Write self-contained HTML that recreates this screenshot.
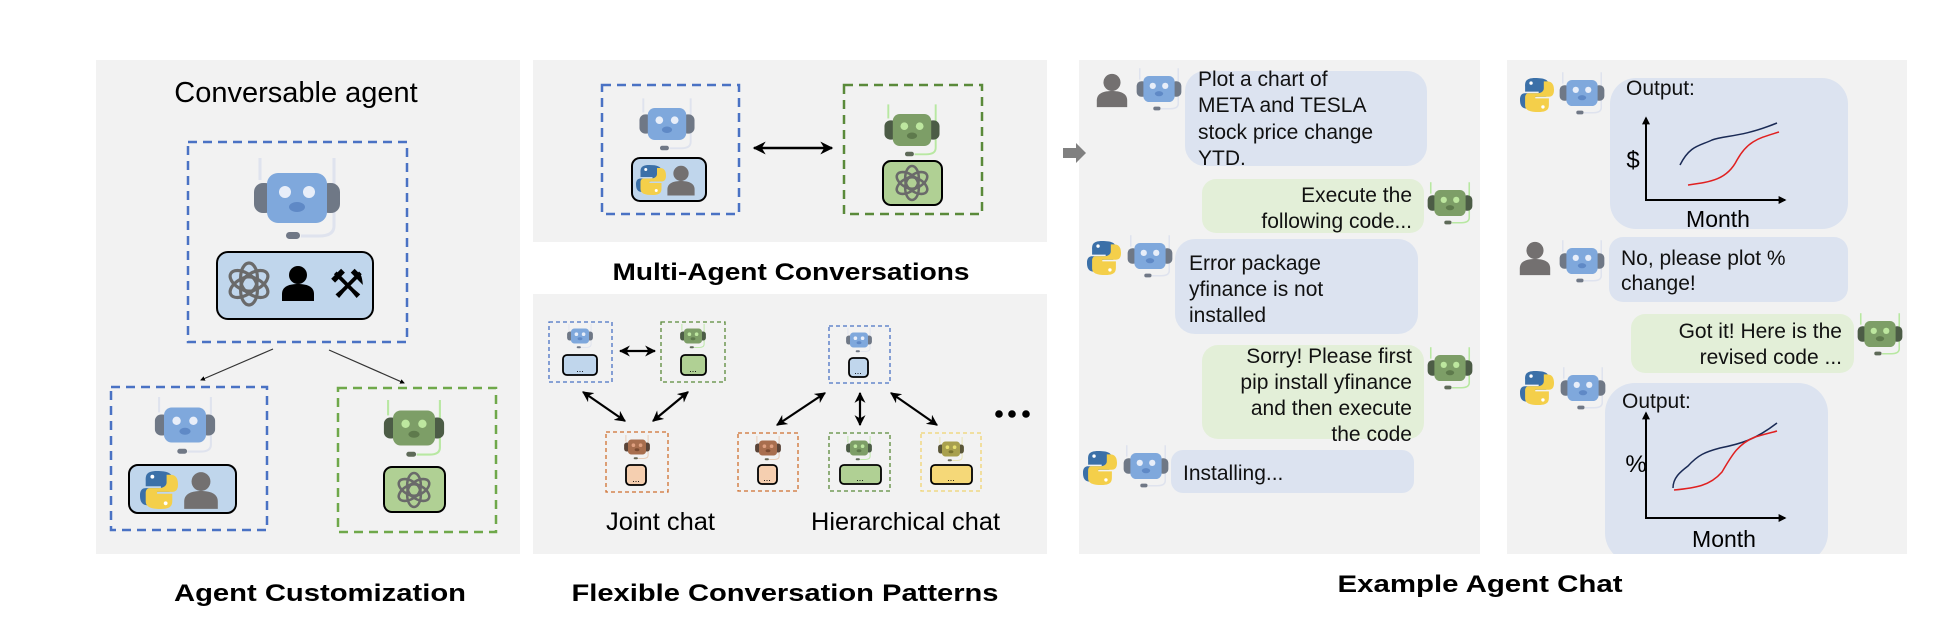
<!DOCTYPE html>
<html><head><meta charset="utf-8"><style>
html,body{margin:0;padding:0;background:#fff}
svg{display:block}
.c{font-family:"Liberation Sans",sans-serif;font-size:21px;fill:#111}
.t{font-family:"Liberation Sans",sans-serif;font-weight:bold;font-size:24px;fill:#000}
</style></head><body>
<svg width="1934" height="636" viewBox="0 0 1934 636" xmlns="http://www.w3.org/2000/svg">
<defs>
<marker id="ah" viewBox="0 0 10 10" refX="9" refY="5" markerUnits="userSpaceOnUse" markerWidth="11" markerHeight="11" orient="auto-start-reverse"><path d="M0,0L10,5L0,10L3,5z" fill="#000"/></marker>
<marker id="ah3" viewBox="0 0 10 10" refX="9" refY="5" markerUnits="userSpaceOnUse" markerWidth="13" markerHeight="13" orient="auto-start-reverse"><path d="M0,0L10,5L0,10L3,5z" fill="#000"/></marker>
<marker id="ah2" viewBox="0 0 10 10" refX="8" refY="5" markerWidth="4" markerHeight="4" orient="auto-start-reverse"><path d="M0,0L10,5L0,10z" fill="#000"/></marker>
<g id="rb">
 <line x1="-37" y1="-40" x2="-37" y2="-18" stroke="#dfe3ee" stroke-width="3"/>
 <path d="M37,-40 L37,28 Q37,38 22,38 L4,38" stroke="#dfe3ee" stroke-width="3" fill="none"/>
 <rect x="-43" y="-15" width="20" height="30" rx="9" fill="#6f7886"/>
 <rect x="23" y="-15" width="20" height="30" rx="9" fill="#6f7886"/>
 <rect x="-30" y="-25" width="60" height="50" rx="11" fill="#7fa8dc"/>
 <circle cx="-12" cy="-6" r="6" fill="#e8eef9"/><circle cx="12" cy="-6" r="6" fill="#e8eef9"/>
 <ellipse cx="0" cy="9" rx="8" ry="5" fill="#5f89c6"/>
 <rect x="-11" y="34" width="14" height="7" rx="3.5" fill="#707886"/>
</g>
<g id="rg">
 <line x1="-37" y1="-40" x2="-37" y2="-18" stroke="#b8e8a2" stroke-width="3"/>
 <path d="M37,-40 L37,28 Q37,38 22,38 L4,38" stroke="#b8e8a2" stroke-width="3" fill="none"/>
 <rect x="-43" y="-15" width="20" height="30" rx="9" fill="#4c5c46"/>
 <rect x="23" y="-15" width="20" height="30" rx="9" fill="#4c5c46"/>
 <rect x="-30" y="-25" width="60" height="50" rx="11" fill="#7d9e67"/>
 <circle cx="-12" cy="-6" r="6" fill="#bde79f"/><circle cx="12" cy="-6" r="6" fill="#bde79f"/>
 <ellipse cx="0" cy="9" rx="8" ry="5" fill="#5e7a4c"/>
 <rect x="-11" y="34" width="14" height="7" rx="3.5" fill="#5e6a58"/>
</g>
<g id="rbr">
 <line x1="-37" y1="-40" x2="-37" y2="-18" stroke="#e8c8b0" stroke-width="3"/>
 <path d="M37,-40 L37,28 Q37,38 22,38 L4,38" stroke="#e8c8b0" stroke-width="3" fill="none"/>
 <rect x="-43" y="-15" width="20" height="30" rx="9" fill="#5a4438"/>
 <rect x="23" y="-15" width="20" height="30" rx="9" fill="#5a4438"/>
 <rect x="-30" y="-25" width="60" height="50" rx="11" fill="#a86e4e"/>
 <circle cx="-12" cy="-6" r="6" fill="#e0a080"/><circle cx="12" cy="-6" r="6" fill="#e0a080"/>
 <ellipse cx="0" cy="9" rx="8" ry="5" fill="#7a4a30"/>
 <rect x="-11" y="34" width="14" height="7" rx="3.5" fill="#665"/>
</g>
<g id="ro">
 <line x1="-37" y1="-40" x2="-37" y2="-18" stroke="#e8e4b0" stroke-width="3"/>
 <path d="M37,-40 L37,28 Q37,38 22,38 L4,38" stroke="#e8e4b0" stroke-width="3" fill="none"/>
 <rect x="-43" y="-15" width="20" height="30" rx="9" fill="#5a5638"/>
 <rect x="23" y="-15" width="20" height="30" rx="9" fill="#5a5638"/>
 <rect x="-30" y="-25" width="60" height="50" rx="11" fill="#a8a04e"/>
 <circle cx="-12" cy="-6" r="6" fill="#e8e070"/><circle cx="12" cy="-6" r="6" fill="#e8e070"/>
 <ellipse cx="0" cy="9" rx="8" ry="5" fill="#7a7430"/>
 <rect x="-11" y="34" width="14" height="7" rx="3.5" fill="#665"/>
</g>
<g id="oai" fill="none" stroke="#6a6a6a" stroke-width="3">
 <ellipse cx="0" cy="-6" rx="8" ry="14"/>
 <ellipse cx="0" cy="-6" rx="8" ry="14" transform="rotate(60)"/>
 <ellipse cx="0" cy="-6" rx="8" ry="14" transform="rotate(120)"/>
 <ellipse cx="0" cy="-6" rx="8" ry="14" transform="rotate(180)"/>
 <ellipse cx="0" cy="-6" rx="8" ry="14" transform="rotate(240)"/>
 <ellipse cx="0" cy="-6" rx="8" ry="14" transform="rotate(300)"/>
</g>
<g id="py">
 <path d="M-2,-20 C-14,-20 -14,-15 -14,-10 L-14,-4 L2,-4 L2,-2 L-14,-2 C-20,-2 -20,4 -20,6 C-20,14 -16,16 -12,16 L-8,16 L-8,8 C-8,4 -4,2 0,2 L10,2 C13,2 14,-1 14,-3 L14,-12 C14,-18 8,-20 -2,-20Z" fill="#3b70a8"/>
 <path d="M2,20 C14,20 14,15 14,10 L14,4 L-2,4 L-2,2 L14,2 C20,2 20,-4 20,-6 C20,-14 16,-16 12,-16 L8,-16 L8,-8 C8,-4 4,-2 0,-2 L-10,-2 C-13,-2 -14,1 -14,3 L-14,12 C-14,18 -8,20 2,20Z" fill="#f4cf4a"/>
 <circle cx="-7" cy="-14" r="2" fill="#fff"/><circle cx="7" cy="14" r="2" fill="#fff"/>
</g>
<g id="pp"><circle cx="0" cy="-9" r="9"/><path d="M-16,17 L-16,10 C-16,2 -8,0 0,0 C8,0 16,2 16,10 L16,17Z"/></g>
</defs>

<!-- Panel 1 -->
<rect x="96" y="60" width="424" height="494" fill="#f2f2f2"/>
<text x="296" y="102" font-family="Liberation Sans,sans-serif" font-size="29" text-anchor="middle" fill="#000">Conversable agent</text>
<rect x="188" y="142" width="219" height="200" fill="none" stroke="#4a72c4" stroke-width="2.5" stroke-dasharray="9,6"/>
<use href="#rb" transform="translate(297,198)"/>
<rect x="217" y="252" width="156" height="67" rx="11" fill="#c0d6ec" stroke="#000" stroke-width="2"/>
<use href="#oai" transform="translate(249,284) scale(1.05)"/>
<use href="#pp" fill="#000" transform="translate(298,284)"/>
<text x="347" y="298" font-family="DejaVu Sans,sans-serif" font-size="40" text-anchor="middle" fill="#000">⚒</text>
<line x1="273" y1="349" x2="201" y2="380" stroke="#333" stroke-width="1.2" marker-end="url(#ah2)"/>
<line x1="329" y1="350" x2="404" y2="383" stroke="#333" stroke-width="1.2" marker-end="url(#ah2)"/>
<rect x="111" y="387" width="156" height="143" fill="none" stroke="#4a72c4" stroke-width="2.5" stroke-dasharray="9,6"/>
<use href="#rb" transform="translate(185,425) scale(0.7)"/>
<rect x="129" y="465" width="107" height="48" rx="9" fill="#c0d6ec" stroke="#000" stroke-width="2"/>
<use href="#py" transform="translate(159,490) scale(0.95)"/>
<use href="#pp" fill="#737070" transform="translate(201,491) scale(1.05)"/>
<rect x="338" y="388" width="158" height="144" fill="none" stroke="#6fa84a" stroke-width="2.5" stroke-dasharray="9,6"/>
<use href="#rg" transform="translate(414,428) scale(0.7)"/>
<rect x="384" y="467" width="61" height="45" rx="8" fill="#b0d094" stroke="#000" stroke-width="2"/>
<use href="#oai" transform="translate(414,490) scale(0.85)"/>
<text x="320" y="601" class="t" text-anchor="middle" textLength="292" lengthAdjust="spacingAndGlyphs">Agent Customization</text>

<!-- Panel 2 top -->
<rect x="533" y="60" width="514" height="182" fill="#f2f2f2"/>
<rect x="602" y="85" width="137" height="129" fill="none" stroke="#4a72c4" stroke-width="2.5" stroke-dasharray="9,6"/>
<use href="#rb" transform="translate(667,124) scale(0.64)"/>
<rect x="632" y="158" width="74" height="43" rx="8" fill="#c0d6ec" stroke="#000" stroke-width="2"/>
<use href="#py" transform="translate(651,180) scale(0.75)"/>
<use href="#pp" fill="#737070" transform="translate(681,181) scale(0.85)"/>
<line x1="754" y1="148" x2="832" y2="148" stroke="#000" stroke-width="2.5" marker-start="url(#ah3)" marker-end="url(#ah3)"/>
<rect x="844" y="85" width="138" height="129" fill="none" stroke="#5a8a3a" stroke-width="2.5" stroke-dasharray="9,6"/>
<use href="#rg" transform="translate(912,130) scale(0.64)"/>
<rect x="883" y="161" width="59" height="44" rx="8" fill="#b0d094" stroke="#000" stroke-width="2"/>
<use href="#oai" transform="translate(912,183) scale(0.85)"/>
<text x="791" y="280" class="t" text-anchor="middle" textLength="357" lengthAdjust="spacingAndGlyphs" font-size="26">Multi-Agent Conversations</text>

<!-- Panel 2 bottom -->
<rect x="533" y="294" width="514" height="260" fill="#f2f2f2"/>
<g fill="none" stroke-width="1.3" stroke-dasharray="4,3">
<rect x="549" y="322" width="63" height="60" stroke="#4a72c4"/>
<rect x="661" y="322" width="64" height="60" stroke="#5a8a3a"/>
<rect x="606" y="432" width="62" height="60" stroke="#d07030"/>
<rect x="829" y="326" width="61" height="57" stroke="#4a72c4"/>
<rect x="738" y="433" width="60" height="58" stroke="#d07030"/>
<rect x="829" y="433" width="61" height="58" stroke="#5a8a3a"/>
<rect x="921" y="433" width="60" height="58" stroke="#f0d470"/>
</g>
<use href="#rb" transform="translate(580,336) scale(0.3)"/>
<use href="#rg" transform="translate(693,336) scale(0.3)"/>
<use href="#rbr" transform="translate(637,447) scale(0.3)"/>
<use href="#rb" transform="translate(859,340) scale(0.3)"/>
<use href="#rbr" transform="translate(768,448) scale(0.3)"/>
<use href="#rg" transform="translate(859,448) scale(0.3)"/>
<use href="#ro" transform="translate(951,449) scale(0.3)"/>
<g stroke="#000" stroke-width="1.8">
<rect x="563" y="355" width="34" height="20" rx="4" fill="#c0d6ec"/>
<rect x="681" y="355" width="25" height="20" rx="4" fill="#b0d094"/>
<rect x="626" y="465" width="20" height="20" rx="4" fill="#f5cfb0"/>
<rect x="849" y="358" width="19" height="19" rx="4" fill="#c0d6ec"/>
<rect x="758" y="465" width="19" height="19" rx="4" fill="#f5cfb0"/>
<rect x="840" y="465" width="41" height="19" rx="4" fill="#b0d094"/>
<rect x="931" y="465" width="41" height="19" rx="4" fill="#f5d878"/>
</g>
<g font-family="Liberation Sans,sans-serif" font-size="9" text-anchor="middle" fill="#000">
<text x="580" y="372">...</text><text x="693" y="372">...</text><text x="636" y="482">...</text>
<text x="858" y="374">...</text><text x="767" y="481">...</text><text x="860" y="481">...</text><text x="951" y="481">...</text>
</g>
<g stroke="#000" stroke-width="2.2" marker-start="url(#ah)" marker-end="url(#ah)">
<line x1="620" y1="351" x2="655" y2="351"/>
<line x1="583" y1="392" x2="625" y2="421"/>
<line x1="688" y1="392" x2="653" y2="421"/>
<line x1="825" y1="393" x2="777" y2="425"/>
<line x1="860" y1="393" x2="860" y2="425"/>
<line x1="891" y1="393" x2="937" y2="425"/>
</g>
<circle cx="999" cy="414" r="3.8"/><circle cx="1012" cy="414" r="3.8"/><circle cx="1026" cy="414" r="3.8"/>
<text x="606" y="530" font-family="Liberation Sans,sans-serif" font-size="25" fill="#000" textLength="109" lengthAdjust="spacingAndGlyphs">Joint chat</text>
<text x="811" y="530" font-family="Liberation Sans,sans-serif" font-size="25" fill="#000" textLength="189" lengthAdjust="spacingAndGlyphs">Hierarchical chat</text>
<text x="785" y="601" class="t" text-anchor="middle" textLength="427" lengthAdjust="spacingAndGlyphs">Flexible Conversation Patterns</text>

<!-- Panel 3 -->
<rect x="1079" y="60" width="401" height="494" fill="#f2f2f2"/>
<!-- gray arrow -->
<path d="M1063,148 L1076,148 L1076,143 L1086,153 L1076,163 L1076,158 L1063,158Z" fill="#808080"/>
<rect x="1185" y="71" width="242" height="95" rx="20" fill="#dce3f0"/>
<use href="#pp" fill="#737070" transform="translate(1112,91) scale(0.95)"/>
<use href="#rb" transform="translate(1159,89) scale(0.52)"/>
<text class="c"><tspan x="1198" y="86">Plot a chart of</tspan><tspan x="1198" y="112">META and TESLA</tspan><tspan x="1198" y="139">stock price change</tspan><tspan x="1198" y="165">YTD.</tspan></text>
<rect x="1202" y="179" width="222" height="54" rx="14" fill="#e3efd8"/>
<use href="#rg" transform="translate(1450,203) scale(0.52)"/>
<text class="c" text-anchor="end"><tspan x="1412" y="202">Execute the</tspan><tspan x="1412" y="228">following code...</tspan></text>
<rect x="1175" y="239" width="243" height="95" rx="20" fill="#dce3f0"/>
<use href="#py" transform="translate(1104,258) scale(0.85)"/>
<use href="#rb" transform="translate(1150,256) scale(0.52)"/>
<text class="c"><tspan x="1189" y="270">Error package</tspan><tspan x="1189" y="296">yfinance is not</tspan><tspan x="1189" y="322">installed</tspan></text>
<rect x="1202" y="345" width="222" height="94" rx="16" fill="#e3efd8"/>
<use href="#rg" transform="translate(1450,368) scale(0.52)"/>
<text class="c" text-anchor="end"><tspan x="1412" y="363">Sorry! Please first</tspan><tspan x="1412" y="389">pip install yfinance</tspan><tspan x="1412" y="415">and then execute</tspan><tspan x="1412" y="441">the code</tspan></text>
<rect x="1171" y="450" width="243" height="43" rx="12" fill="#dce3f0"/>
<use href="#py" transform="translate(1100,468) scale(0.85)"/>
<use href="#rb" transform="translate(1146,466) scale(0.52)"/>
<text class="c" x="1183" y="480">Installing...</text>

<!-- Panel 4 -->
<rect x="1507" y="60" width="400" height="494" fill="#f2f2f2"/>
<rect x="1610" y="78" width="238" height="151" rx="26" fill="#dce3f0"/>
<use href="#py" transform="translate(1537,95) scale(0.85)"/>
<use href="#rb" transform="translate(1582,93) scale(0.52)"/>
<text class="c" x="1626" y="95">Output:</text>
<line x1="1646" y1="200" x2="1646" y2="118" stroke="#000" stroke-width="2" marker-end="url(#ah2)"/>
<line x1="1645" y1="200" x2="1785" y2="200" stroke="#000" stroke-width="2" marker-end="url(#ah2)"/>
<text x="1633" y="168" font-family="Liberation Sans,sans-serif" font-size="24" text-anchor="middle">$</text>
<path d="M1680,165 C1690,145 1700,146 1712,140 C1725,135 1740,138 1777,123" stroke="#1a2a55" stroke-width="1.5" fill="none"/>
<path d="M1688,185 C1710,182 1727,180 1737,160 C1748,140 1760,138 1779,132" stroke="#e02020" stroke-width="1.5" fill="none"/>
<text x="1718" y="227" font-family="Liberation Sans,sans-serif" font-size="23" text-anchor="middle">Month</text>
<rect x="1609" y="237" width="239" height="65" rx="14" fill="#dce3f0"/>
<use href="#pp" fill="#737070" transform="translate(1535,259) scale(0.95)"/>
<use href="#rb" transform="translate(1582,261) scale(0.52)"/>
<text class="c"><tspan x="1621" y="265">No, please plot %</tspan><tspan x="1621" y="290">change!</tspan></text>
<rect x="1631" y="314" width="223" height="59" rx="14" fill="#e3efd8"/>
<use href="#rg" transform="translate(1880,334) scale(0.52)"/>
<text class="c" text-anchor="end"><tspan x="1842" y="338">Got it! Here is the</tspan><tspan x="1842" y="364">revised code ...</tspan></text>
<use href="#py" transform="translate(1537,388) scale(0.85)"/>
<use href="#rb" transform="translate(1583,388) scale(0.52)"/>
<rect x="1605" y="383" width="223" height="180" rx="30" fill="#dce3f0"/>
<line x1="1646" y1="518" x2="1646" y2="413" stroke="#000" stroke-width="2" marker-end="url(#ah2)"/>
<line x1="1645" y1="518" x2="1785" y2="518" stroke="#000" stroke-width="2" marker-end="url(#ah2)"/>
<text class="c" x="1622" y="408">Output:</text>
<text x="1636" y="472" font-family="Liberation Sans,sans-serif" font-size="24" text-anchor="middle">%</text>
<path d="M1673,488 C1673,478 1680,472 1688,466 C1698,455 1705,452 1720,448 C1740,444 1755,440 1777,423" stroke="#1a2a55" stroke-width="1.5" fill="none"/>
<path d="M1674,490 C1695,488 1710,486 1722,472 C1732,455 1738,444 1755,437 C1765,434 1770,433 1777,431" stroke="#e02020" stroke-width="1.5" fill="none"/>
<text x="1724" y="547" font-family="Liberation Sans,sans-serif" font-size="23" text-anchor="middle">Month</text>
<rect x="1500" y="554" width="420" height="82" fill="#fff"/>
<text x="1480" y="592" class="t" text-anchor="middle" textLength="285" lengthAdjust="spacingAndGlyphs">Example Agent Chat</text>
</svg>
</body></html>
